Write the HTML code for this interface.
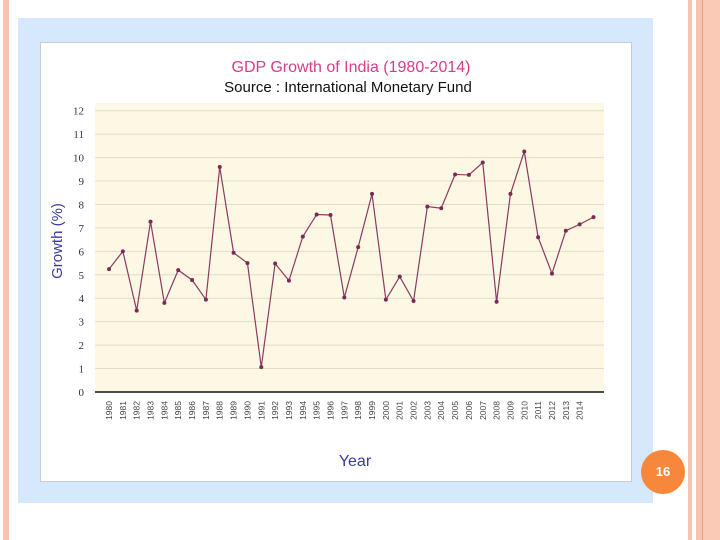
<!DOCTYPE html>
<html><head><meta charset="utf-8"><style>
body{margin:0;width:720px;height:540px;background:#fff;position:relative;overflow:hidden;font-family:"Liberation Sans",sans-serif}
.abs{position:absolute}
</style></head><body>
<div class="abs" style="left:3px;top:0;width:6px;height:540px;background:#f8c4b0"></div>
<div class="abs" style="left:688px;top:0;width:4px;height:540px;background:#f8c4b0"></div>
<div class="abs" style="left:696px;top:0;width:24px;height:540px;background:#fbcab6;border-left:6px solid #f8c4b0;box-sizing:border-box"></div>
<div class="abs" style="left:702px;top:0;width:1px;height:540px;background:#e8a080"></div>
<div class="abs" style="left:18px;top:18px;width:635px;height:485px;background:#d6e8fb"></div>
<div class="abs" style="left:641px;top:450px;width:44px;height:44px;border-radius:50%;background:#f7873a;color:#fff;font-weight:bold;font-size:13px;line-height:44px;text-align:center">16</div>
<svg class="abs" style="left:0;top:0" width="720" height="540">
<rect x="40.5" y="42.5" width="591" height="439" fill="#fff" stroke="#c4cbd4"/>
<text x="351" y="72" text-anchor="middle" font-size="16" fill="#d63c8c" font-family="Liberation Sans">GDP Growth of India (1980-2014)</text>
<text x="348" y="92" text-anchor="middle" font-size="15" fill="#111" font-family="Liberation Sans">Source : International Monetary Fund</text>
<text transform="translate(62,241) rotate(-90)" text-anchor="middle" font-size="15" fill="#3a3aa0">Growth (%)</text>
<text x="355" y="466" text-anchor="middle" font-size="16" fill="#3a3aa0">Year</text>
<g id="plot"></g>
</svg>
<script>
const years=[1980,1981,1982,1983,1984,1985,1986,1987,1988,1989,1990,1991,1992,1993,1994,1995,1996,1997,1998,1999,2000,2001,2002,2003,2004,2005,2006,2007,2008,2009,2010,2011,2012,2013,2014,2015];
const growth=[5.24,6.0,3.47,7.27,3.8,5.2,4.78,3.94,9.6,5.94,5.5,1.06,5.48,4.75,6.63,7.57,7.55,4.03,6.18,8.45,3.94,4.92,3.88,7.91,7.84,9.28,9.26,9.79,3.85,8.45,10.26,6.6,5.05,6.88,7.15,7.46];
const yTicks=[0,1,2,3,4,5,6,7,8,9,10,11,12];
const xLabels=["1980","1981","1982","1983","1984","1985","1986","1987","1988","1989","1990","1991","1992","1993","1994","1995","1996","1997","1998","1999","2000","2001","2002","2003","2004","2005","2006","2007","2008","2009","2010","2011","2012","2013","2014"];
const NS="http://www.w3.org/2000/svg";
const g=document.getElementById('plot');
const L=95,R=604,T=103,B=392;
const y=v=>B-(v/12)*(B-110.7);
const x=i=>109+i*(593.5-109)/(years.length-1);
function mk(t,a){const e=document.createElementNS(NS,t);for(const k in a)e.setAttribute(k,a[k]);g.appendChild(e);return e;}
let bg=mk('rect',{x:L,y:T,width:R-L,height:B-T,fill:'#fdf8e3'});


yTicks.forEach(v=>{
 let l=mk('line',{x1:L,x2:R,y1:y(v),y2:y(v),stroke:'#e2dccb','stroke-width':1});
 
 
 let t=mk('text',{x:84,y:y(v)+4,'text-anchor':'end','font-size':11,fill:'#333','font-family':'Liberation Serif'});
 t.textContent=v;
 
 
});
let ax=mk('line',{x1:L,x2:R,y1:B,y2:B,stroke:'#111','stroke-width':1.5});


xLabels.forEach((s,i)=>{
 let t=mk('text',{transform:`translate(${x(i)+3},${B+9}) rotate(-90)`,'text-anchor':'end','font-size':8.5,fill:'#444'});
 t.textContent=s;
 
 
});
let p=mk('polyline',{points:growth.map((v,i)=>x(i)+','+y(v)).join(' '),fill:'none',stroke:'#8a3a62','stroke-width':1.2});


growth.forEach((v,i)=>{
 let c=mk('circle',{cx:x(i),cy:y(v),r:2,fill:'#7a2a55'});
 
 
});
</script>
</body></html>
